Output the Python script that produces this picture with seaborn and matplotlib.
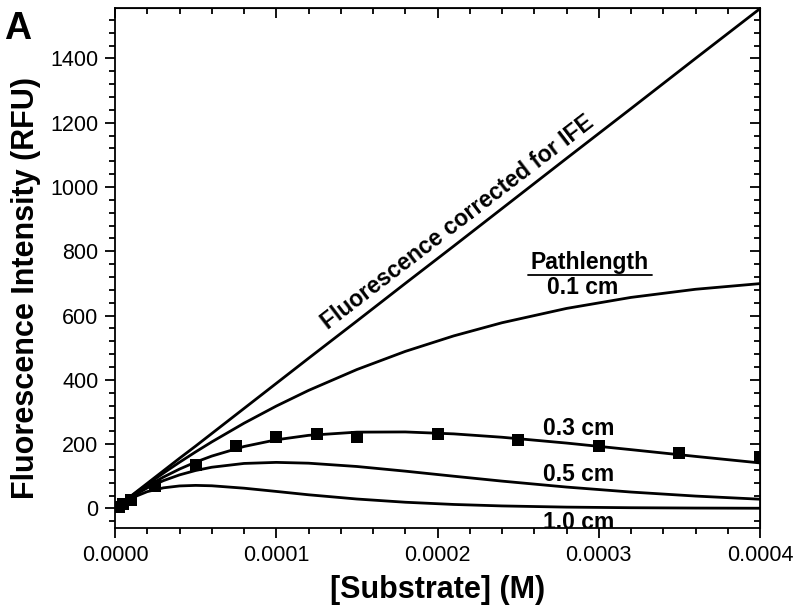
import matplotlib
matplotlib.use("Agg")
import matplotlib.pyplot as plt
from matplotlib.ticker import MultipleLocator, FormatStrFormatter
import pandas as pd
import seaborn as sns

# === Datos ===
conc = [0, 1e-5, 2e-5, 3e-5, 4e-5, 5e-5, 6e-5, 8e-5, 1e-4, 1.2e-4, 1.5e-4,
        1.8e-4, 2.1e-4, 2.4e-4, 2.8e-4, 3.2e-4, 3.6e-4, 4e-4]
corregida = [0, 39, 78, 117, 156, 194, 233, 311, 389, 467, 583, 700, 816,
             933, 1089, 1244, 1400, 1555]
camino_01 = [0, 38.1, 74.7, 109.8, 143.6, 175.9, 206.9, 265.1, 318.4, 367.1,
             432.1, 488.5, 536.7, 577.7, 622.2, 656.5, 681.8, 699.4]
camino_03 = [0, 36.6, 69.0, 97.4, 122.4, 144.1, 162.8, 192.6, 213.5, 227.3,
             237.3, 237.9, 231.9, 221.4, 203.3, 182.8, 161.8, 141.5]
camino_05 = [0, 35.2, 63.7, 86.4, 104.3, 118.0, 128.1, 139.9, 143.2, 140.7,
             130.4, 115.9, 100.2, 84.9, 66.4, 50.9, 38.4, 28.6]
camino_10 = [0, 31.8, 52.2, 64.0, 69.9, 71.6, 70.4, 62.9, 52.8, 42.4, 29.2,
             19.2, 12.3, 7.7, 4.0, 2.1, 1.1, 0.5]

# puntos experimentales (0.3 cm)
puntos_x = [0.0000025, 0.000005, 0.00001, 0.000025, 0.00005, 0.000075, 0.0001,
            0.000125, 0.00015, 0.0002, 0.00025, 0.0003, 0.00035, 0.0004]
puntos_y = [3, 13, 26, 69, 135, 194, 221, 231, 223, 231, 212, 195, 173, 160]

curvas = {
    "corregida": corregida,
    "0.1 cm": camino_01,
    "0.3 cm": camino_03,
    "0.5 cm": camino_05,
    "1.0 cm": camino_10,
}

# === Figura ===
sns.set_style("ticks")
plt.rcParams["font.family"] = ["Liberation Sans", "DejaVu Sans"]
for clave in ["text.color", "axes.labelcolor", "xtick.color", "ytick.color",
              "axes.edgecolor"]:
    plt.rcParams[clave] = "black"

fig = plt.figure(figsize=(8, 6.11), dpi=100)
ax = fig.add_axes([0.1438, 0.1353, 0.8062, 0.8511])

for nombre, valores in curvas.items():
    df = pd.DataFrame({"conc": conc, "F": valores})
    sns.lineplot(data=df, x="conc", y="F", color="black", lw=2.0, ax=ax)

df_pts = pd.DataFrame({"conc": puntos_x, "F": puntos_y})
sns.scatterplot(data=df_pts, x="conc", y="F", marker="s", s=85, color="black",
                edgecolor="black", linewidth=0, ax=ax, zorder=5)

ax.set_xlim(0, 0.0004)
ax.set_ylim(-62, 1556)

ax.xaxis.set_major_locator(MultipleLocator(0.0001))
ax.xaxis.set_minor_locator(MultipleLocator(0.00002))
ax.xaxis.set_major_formatter(FormatStrFormatter("%.4f"))
ax.yaxis.set_major_locator(MultipleLocator(200))
ax.yaxis.set_minor_locator(MultipleLocator(40))

for s in ax.spines.values():
    s.set_linewidth(1.3)
    s.set_visible(True)

ax.tick_params(which="major", direction="out", length=7, width=1.3,
               labelsize=15.5, pad=5)
ax.tick_params(which="minor", direction="out", length=4, width=1.3)

# ticks espejo hacia dentro
arriba = ax.secondary_xaxis("top")
arriba.xaxis.set_major_locator(MultipleLocator(0.0001))
arriba.xaxis.set_minor_locator(MultipleLocator(0.00002))
arriba.tick_params(which="major", direction="in", length=7, width=1.3, labeltop=False)
arriba.tick_params(which="minor", direction="in", length=4, width=1.3)
derecha = ax.secondary_yaxis("right")
derecha.yaxis.set_major_locator(MultipleLocator(200))
derecha.yaxis.set_minor_locator(MultipleLocator(40))
derecha.tick_params(which="major", direction="in", length=7, width=1.3, labelright=False)
derecha.tick_params(which="minor", direction="in", length=4, width=1.3)

ax.set_xlabel("[Substrate] (M)", fontsize=22, fontweight="bold")
ax.set_ylabel("Fluorescence Intensity (RFU)", fontsize=22, fontweight="bold")
ax.xaxis.set_label_coords(0.5, -0.09)
ax.yaxis.set_label_coords(-0.115, 0.463)

# anotaciones
ax.text(0.0002127, 891, "Fluorescence corrected for IFE", rotation=37.5,
        rotation_mode="anchor", ha="center", va="center", fontsize=16.5,
        fontweight="bold")
ax.text(0.0002946, 766, "Pathlength", ha="center", va="center",
        fontsize=16.5, fontweight="bold")
ax.plot([0.000256, 0.000333], [726, 726], color="black", lw=1.3)
ax.text(0.0002902, 686, "0.1 cm", ha="center", va="center", fontsize=16.5, fontweight="bold")
ax.text(0.0002877, 250, "0.3 cm", ha="center", va="center", fontsize=16.5, fontweight="bold")
ax.text(0.0002877, 104, "0.5 cm", ha="center", va="center", fontsize=16.5, fontweight="bold")
ax.text(0.0002877, -43, "1.0 cm", ha="center", va="center", fontsize=16.5,
        fontweight="bold", clip_on=True)

fig.text(0.005, 0.982, "A", fontsize=27, fontweight="bold", ha="left", va="top")

fig.savefig("out.png", dpi=100)
